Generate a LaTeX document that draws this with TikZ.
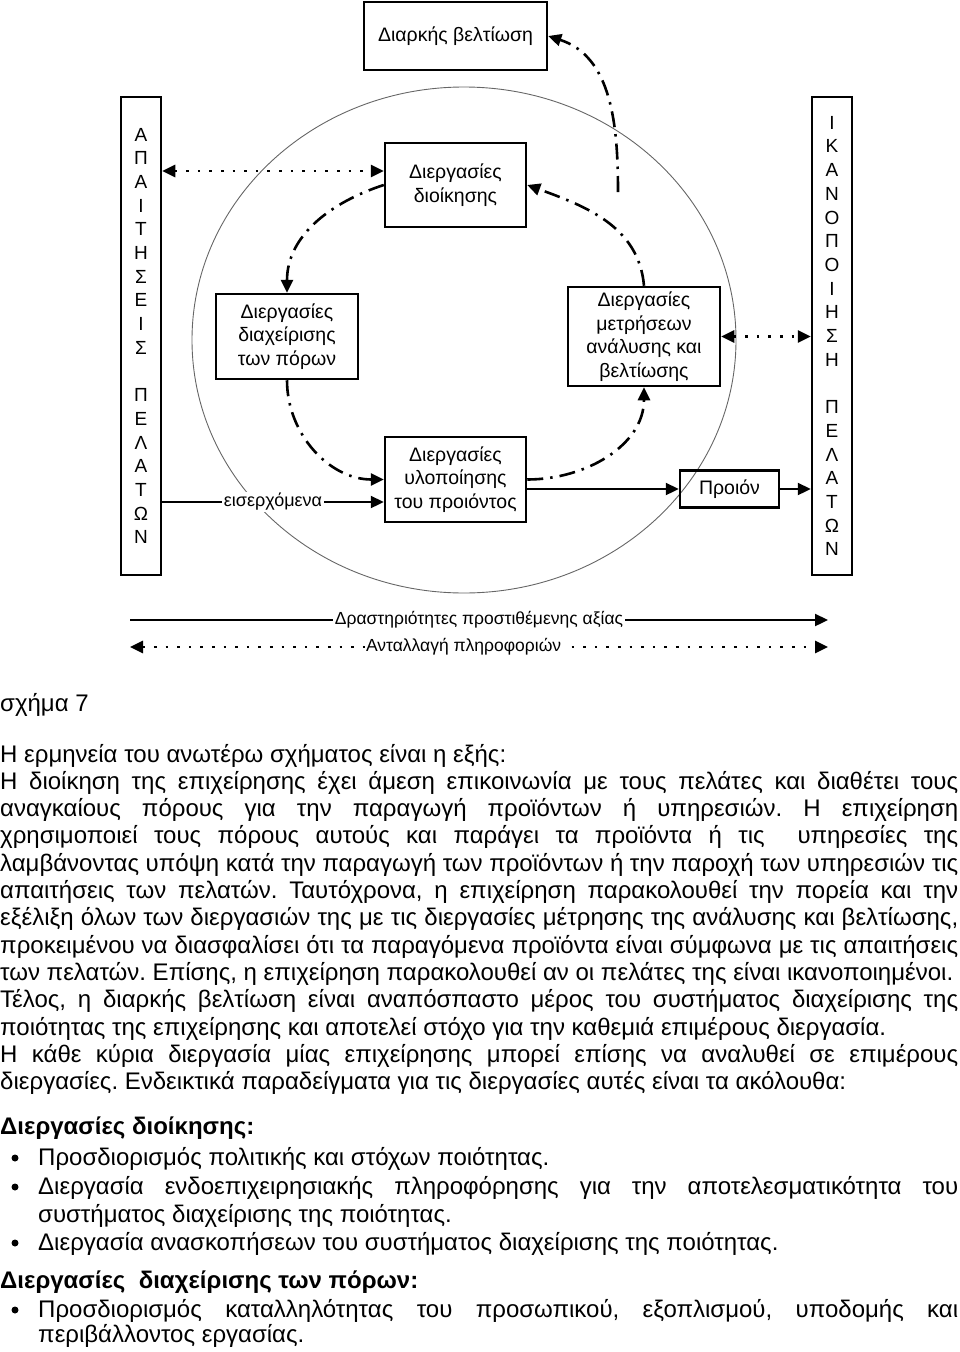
\documentclass[tikz,border=0pt]{standalone}
\usepackage{fontspec}
\setmainfont{Liberation Sans}
\usetikzlibrary{arrows.meta}
\frenchspacing
\newcommand{\bodyfnt}{\fontsize{24}{27.3}\selectfont}
\newcommand{\diagfnt}{\fontsize{19.5}{23.6}\selectfont}
\newcommand{\sidefnt}{\fontsize{19}{23.7}\selectfont}
\newcommand{\lblfnt}{\fontsize{18}{21}\selectfont}
\newcommand{\smlfnt}{\fontsize{17.5}{21}\selectfont}
\newcommand{\jl}[2]{\makebox[#1][s]{#2}}
\begin{document}
\begin{tikzpicture}[x=1pt,y=-1pt,
  box/.style={draw, line width=2.5pt, inner sep=0pt, align=center, font=\diagfnt},
  tall/.style={draw, line width=2.5pt, inner sep=0pt, align=center, font=\sidefnt, minimum width=40pt, minimum height=478pt},
  tipe/.style={-{Triangle[length=13pt,width=12pt]}},
  tipb/.style={{Triangle[length=13pt,width=12pt]}-{Triangle[length=13pt,width=12pt]}},
  solidarr/.style={line width=2.3pt},
  dotarr/.style={line width=2.6pt, dash pattern=on 2.6pt off 9pt},
  dasharr/.style={line width=2.6pt, dash pattern=on 16pt off 7pt on 2.5pt off 7pt},
  lbl/.style={fill=white, inner sep=1.5pt, font=\lblfnt},
  slbl/.style={fill=white, inner sep=1.5pt, font=\smlfnt},
  txt/.style={anchor=base west, inner sep=0pt, font=\bodyfnt},
  hd/.style={anchor=base west, inner sep=0pt, font=\bodyfnt\bfseries},
  bul/.style={circle, fill, inner sep=0pt, minimum size=7pt},
]
\path[use as bounding box] (0,0) rectangle (960,1352);

% background circle
\draw[line width=0.9pt, black!60] (464,340) ellipse [x radius=272pt, y radius=253pt];

% boxes
\node[box, minimum width=183pt, minimum height=68pt] (top) at (455.5,36) {Διαρκής βελτίωση};
\node[box, minimum width=141pt, minimum height=84pt] (dioik) at (455.5,185) {Διεργασίες\\διοίκησης};
\node[box, minimum width=142pt, minimum height=85pt] (diax) at (287,336.5) {Διεργασίες\\διαχείρισης\\των πόρων};
\node[box, minimum width=141pt, minimum height=85pt] (ylop) at (455.5,479.5) {Διεργασίες\\υλοποίησης\\του προιόντος};
\node[box, minimum width=152pt, minimum height=99pt] (metr) at (644,336.5) {Διεργασίες\\μετρήσεων\\ανάλυσης και\\βελτίωσης};
\node[box, minimum width=99pt, minimum height=37pt] (proion) at (729.5,489) {Προιόν};
\node[tall] (cust) at (141,336) {Α\\Π\\Α\\Ι\\Τ\\Η\\Σ\\Ε\\Ι\\Σ\\[23.7pt]Π\\Ε\\Λ\\Α\\Τ\\Ω\\Ν};
\node[tall] (sat) at (832,336) {Ι\\Κ\\Α\\Ν\\Ο\\Π\\Ο\\Ι\\Η\\Σ\\Η\\[23.7pt]Π\\Ε\\Λ\\Α\\Τ\\Ω\\Ν};

% dotted information arrows
\coordinate (da) at ([yshift=14pt]dioik.west);
\draw[dotarr, tipb] (cust.east |- da) -- (da);
\draw[dotarr, tipb] (metr.east) -- (sat.west |- metr.east);

% solid flow
\coordinate (ea) at ([yshift=-22.5pt]ylop.west);
\draw[solidarr, tipe] (cust.east |- ea) -- node[lbl]{εισερχόμενα} (ea);
\draw[solidarr, tipe] (ylop.east |- proion.west) -- (proion.west);
\draw[solidarr, tipe] (proion.east) -- (sat.west |- proion.east);

% dash-dot cycle
\draw[dasharr, tipe] (dioik.west) to[out=198, in=90] (diax.north);
\draw[dasharr, tipe] (diax.south) to[out=-90, in=180] (ylop.west);
\draw[dasharr, tipe] (ylop.east) to[out=0, in=-90] (metr.south);
\draw[dasharr, tipe] (metr.north) to[out=95, in=-20] (dioik.east);
\coordinate (fs) at (618,192);
\draw[dasharr, tipe] (fs) to[out=90, in=-18] (top.east);

% bottom arrows
\coordinate (va1) at (130,620);
\coordinate (va2) at (828,620);
\draw[solidarr, tipe] (va1) -- node[slbl]{Δραστηριότητες προστιθέμενης αξίας} (va2);
\coordinate (ia1) at (130,647);
\coordinate (ia2) at (828,647);
\draw[dotarr, tipb] (ia1) -- node[slbl, pos=0.478]{Ανταλλαγή πληροφοριών} (ia2);

% text
\node[txt] (p0) at (0,711) {σχήμα 7};
\node[txt] (p1) at (0,762) {Η ερμηνεία του ανωτέρω σχήματος είναι η εξής:};
\node[txt] (p2) at (0,789.3) {\jl{958pt}{Η διοίκηση της επιχείρησης έχει άμεση επικοινωνία με τους πελάτες και διαθέτει τους}};
\node[txt] (p3) at (0,816.6) {\jl{958pt}{αναγκαίους πόρους για την παραγωγή προϊόντων ή υπηρεσιών. Η επιχείρηση}};
\node[txt] (p4) at (0,843.9) {\jl{958pt}{χρησιμοποιεί τους πόρους αυτούς και παράγει τα προϊόντα ή τις \ υπηρεσίες της}};
\node[txt] (p5) at (0,871.2) {\jl{958pt}{λαμβάνοντας υπόψη κατά την παραγωγή των προϊόντων ή την παροχή των υπηρεσιών τις}};
\node[txt] (p6) at (0,898.5) {\jl{958pt}{απαιτήσεις των πελατών. Ταυτόχρονα, η επιχείρηση παρακολουθεί την πορεία και την}};
\node[txt] (p7) at (0,925.8) {\jl{958pt}{εξέλιξη όλων των διεργασιών της με τις διεργασίες μέτρησης της ανάλυσης και βελτίωσης,}};
\node[txt] (p8) at (0,953.1) {\jl{958pt}{προκειμένου να διασφαλίσει ότι τα παραγόμενα προϊόντα είναι σύμφωνα με τις απαιτήσεις}};
\node[txt] (p9) at (0,980.4) {των πελατών. Επίσης, η επιχείρηση παρακολουθεί αν οι πελάτες της είναι ικανοποιημένοι.};
\node[txt] (p10) at (0,1007.7) {\jl{958pt}{Τέλος, η διαρκής βελτίωση είναι αναπόσπαστο μέρος του συστήματος διαχείρισης της}};
\node[txt] (p11) at (0,1035) {ποιότητας της επιχείρησης και αποτελεί στόχο για την καθεμιά επιμέρους διεργασία.};
\node[txt] (p12) at (0,1062.3) {\jl{958pt}{Η κάθε κύρια διεργασία μίας επιχείρησης μπορεί επίσης να αναλυθεί σε επιμέρους}};
\node[txt] (p13) at (0,1089.6) {διεργασίες. Ενδεικτικά παραδείγματα για τις διεργασίες αυτές είναι τα ακόλουθα:};

\node[hd] (h1) at (0,1134) {Διεργασίες διοίκησης:};
\node[bul] (b1) at (15,1158) {};
\node[txt] (q1) at (38,1165) {Προσδιορισμός πολιτικής και στόχων ποιότητας.};
\node[bul] (b2) at (15,1187) {};
\node[txt] (q2) at (38,1194) {\jl{920pt}{Διεργασία ενδοεπιχειρησιακής πληροφόρησης για την αποτελεσματικότητα του}};
\node[txt] (q3) at (38,1222) {συστήματος διαχείρισης της ποιότητας.};
\node[bul] (b3) at (15,1243) {};
\node[txt] (q4) at (38,1250) {Διεργασία ανασκοπήσεων του συστήματος διαχείρισης της ποιότητας.};

\node[hd] (h2) at (0,1288) {Διεργασίες \ διαχείρισης των πόρων:};
\node[bul] (b4) at (15,1310) {};
\node[txt] (q5) at (38,1317) {\jl{920pt}{Προσδιορισμός καταλληλότητας του προσωπικού, εξοπλισμού, υποδομής και}};
\node[txt] (q6) at (38,1342) {περιβάλλοντος εργασίας.};
\end{tikzpicture}
\end{document}
